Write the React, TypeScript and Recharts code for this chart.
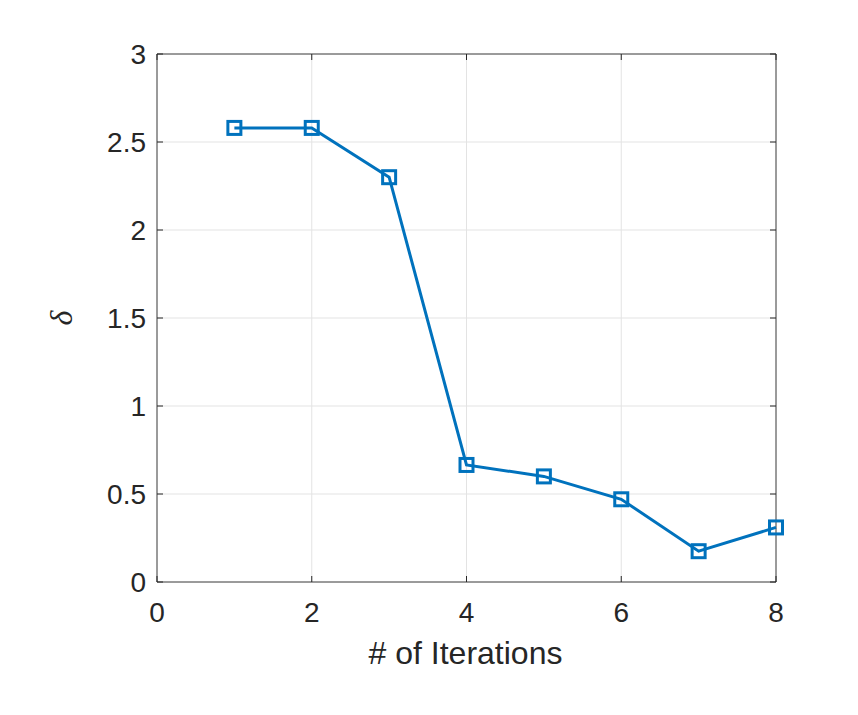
import React from 'react';
import { LineChart, Line, XAxis, YAxis, CartesianGrid, ReferenceArea, Label } from 'recharts';

const iterations = [1, 2, 3, 4, 5, 6, 7, 8];
const deltaValues = [2.58, 2.58, 2.3, 0.665, 0.6, 0.47, 0.175, 0.31];
const xTicks = [0, 2, 4, 6, 8];
const yTicks = [0, 0.5, 1, 1.5, 2, 2.5, 3];

const W = 858;
const H = 715;
const PLOT_LEFT = 157;
const PLOT_RIGHT = 776;
const PLOT_TOP = 54;
const PLOT_BOTTOM = 582;
const Y_AXIS_W = 80;
const X_AXIS_H = 80;

const AXIS_COLOR = '#262626';
const LINE_COLOR = '#0072BD';
const FONT = '"Liberation Sans", Arial, Helvetica, sans-serif';

const data = iterations.map((it, i) => ({ it, delta: deltaValues[i] }));

// y tick: label + inward tick marks on both sides
const YTick = (props: any) => {
  const { y, payload } = props;
  return (
    <g>
      <line x1={PLOT_LEFT} x2={PLOT_LEFT + 6} y1={y} y2={y} stroke={AXIS_COLOR} strokeWidth={1} />
      <line x1={PLOT_RIGHT - 6} x2={PLOT_RIGHT} y1={y} y2={y} stroke={AXIS_COLOR} strokeWidth={1} />
      <text x={PLOT_LEFT - 11} y={y} dy='0.36em' textAnchor='end' fontSize={28} fill={AXIS_COLOR} fontFamily={FONT}>
        {payload.value}
      </text>
    </g>
  );
};

const XTick = (props: any) => {
  const { x, payload } = props;
  return (
    <g>
      <line x1={x} x2={x} y1={PLOT_BOTTOM} y2={PLOT_BOTTOM - 6} stroke={AXIS_COLOR} strokeWidth={1} />
      <line x1={x} x2={x} y1={PLOT_TOP} y2={PLOT_TOP + 6} stroke={AXIS_COLOR} strokeWidth={1} />
      <text x={x} y={PLOT_BOTTOM + 40} textAnchor='middle' fontSize={28} fill={AXIS_COLOR} fontFamily={FONT}>
        {payload.value}
      </text>
    </g>
  );
};

const SquareDot = (props: any) => {
  const { cx, cy, index } = props;
  if (cx == null || cy == null) return null;
  return (
    <rect
      key={`sq-${index}`}
      x={cx - 6.5}
      y={cy - 6.5}
      width={13}
      height={13}
      fill='none'
      stroke={LINE_COLOR}
      strokeWidth={3}
    />
  );
};

export default function App() {
  return (
    <div style={{ position: 'absolute', left: 0, top: 0, width: W, height: H, background: '#fff' }}>
      <LineChart
        width={W}
        height={H}
        data={data}
        margin={{ top: PLOT_TOP, right: W - PLOT_RIGHT, left: PLOT_LEFT - Y_AXIS_W, bottom: H - PLOT_BOTTOM - X_AXIS_H }}
      >
        <CartesianGrid stroke='#e3e3e3' strokeWidth={1} />
        <XAxis
          dataKey='it'
          type='number'
          domain={[0, 8]}
          ticks={xTicks}
          height={X_AXIS_H}
          axisLine={false}
          tickLine={false}
          tick={<XTick />}
        >
          <Label
            content={() => (
              <text x={(PLOT_LEFT + PLOT_RIGHT) / 2 - 1} y={664} textAnchor='middle' fontSize={32} fill={AXIS_COLOR} fontFamily={FONT}>
                # of Iterations
              </text>
            )}
          />
        </XAxis>
        <YAxis
          type='number'
          domain={[0, 3]}
          ticks={yTicks}
          width={Y_AXIS_W}
          axisLine={false}
          tickLine={false}
          tick={<YTick />}
        >
          <Label
            content={() => (
              <text
                x={72}
                y={(PLOT_TOP + PLOT_BOTTOM) / 2}
                transform={`rotate(-90 72 ${(PLOT_TOP + PLOT_BOTTOM) / 2})`}
                textAnchor='middle'
                fontSize={32}
                fontStyle='italic'
                fill={AXIS_COLOR}
                fontFamily='"Liberation Serif", "DejaVu Serif", serif'
              >
                δ
              </text>
            )}
          />
        </YAxis>
        <ReferenceArea x1={0} x2={8} y1={0} y2={3} fill='none' stroke={AXIS_COLOR} strokeWidth={1} strokeOpacity={0.85} />
        <Line
          type='linear'
          dataKey='delta'
          stroke={LINE_COLOR}
          strokeWidth={3}
          dot={<SquareDot />}
          activeDot={false}
          isAnimationActive={false}
        />
      </LineChart>
    </div>
  );
}
